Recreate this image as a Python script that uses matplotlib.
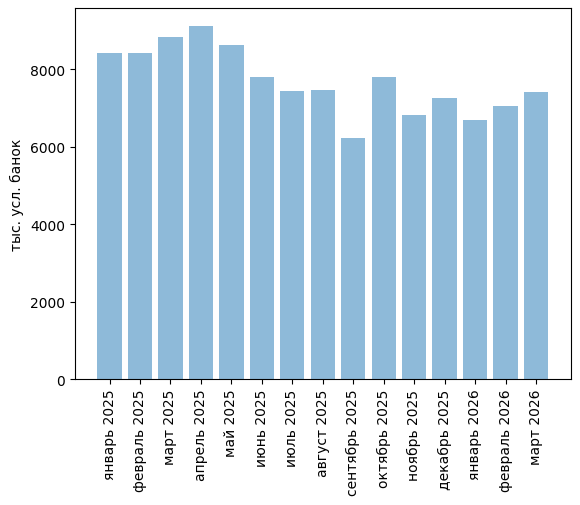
import matplotlib
matplotlib.use("Agg")
import matplotlib.pyplot as plt

months = ["январь 2025", "февраль 2025", "март 2025", "апрель 2025", "май 2025",
          "июнь 2025", "июль 2025", "август 2025", "сентябрь 2025", "октябрь 2025",
          "ноябрь 2025", "декабрь 2025", "январь 2026", "февраль 2026", "март 2026"]
values = [8417, 8417, 8834, 9121, 8626, 7791, 7426, 7452, 6227, 7791,
          6827, 7244, 6696, 7061, 7400]

fig = plt.figure(figsize=(5.8, 5.06), dpi=100)
ax = fig.add_axes([0.129, 0.249, 0.855, 0.733])
ax.bar(range(len(months)), values, color="#1f77b4", alpha=0.5)
ax.set_xticks(range(len(months)))
ax.set_xticklabels(months, rotation=90)
ax.set_ylabel("тыс. усл. банок")
fig.savefig("out.png", dpi=100)
